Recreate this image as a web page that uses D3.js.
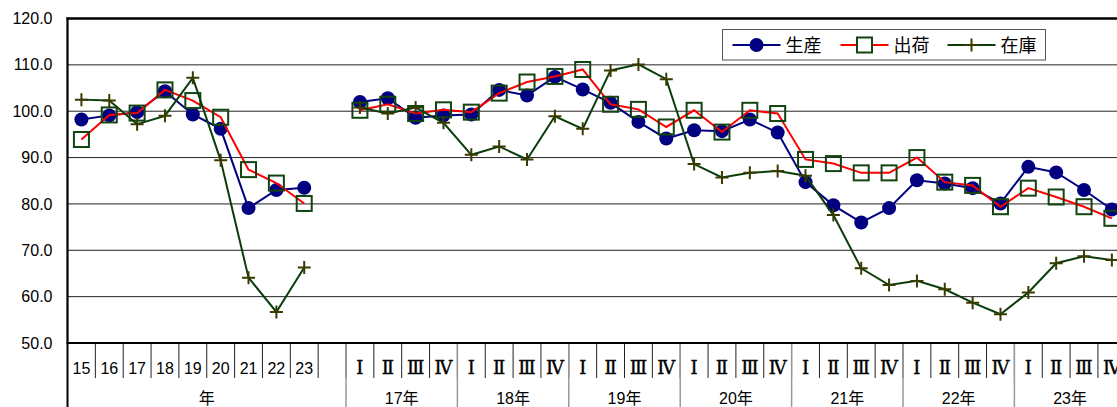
<!DOCTYPE html>
<html><head><meta charset="utf-8">
<script src="https://cdn.jsdelivr.net/npm/d3@7"></script>
<style>
body{margin:0;background:#fff;}
svg{display:block;}
text{font-family:"Liberation Sans","Noto Sans CJK JP",sans-serif;}
</style></head>
<body>
<svg id="c" width="1117" height="407"></svg>
<script>
// ---- data ----
const annualCats = ["15","16","17","18","19","20","21","22","23"];
const quarterCats = ["Ⅰ","Ⅱ","Ⅲ","Ⅳ"];
const quarterYears = ["17年","18年","19年","20年","21年","22年","23年"];
const annualGroup = "年";
const seriesNames = ["生産","出荷","在庫"];
const yTicks = [50,60,70,80,90,100,110,120];

const prodAnnual = [98.2,99.1,99.8,104.3,99.3,96.2,79.1,83.0,83.5];
const shipAnnual = [93.9,99.2,99.6,104.6,102.3,98.7,87.4,84.5,80.1];
const invAnnual  = [102.5,102.3,97.2,99.0,107.2,89.4,64.1,56.7,66.3];

const prodQ = [102.0,102.8,98.6,99.1, 99.3,104.6,103.4,107.4, 104.7,101.8,97.7,94.1, 95.9,95.7,98.2,95.4, 84.7,79.7,76.0,79.1, 85.1,84.4,83.4,80.1, 88.0,86.8,83.0,78.8];
const shipQ = [100.2,101.5,99.5,100.3, 99.8,103.9,106.3,107.5, 109.0,101.5,100.4,96.6, 100.2,95.5,100.2,99.5, 89.6,88.7,86.7,86.7, 90.0,84.7,84.0,79.4, 83.4,81.5,79.4,76.9];
const invQ  = [100.8,99.5,100.8,97.5, 90.6,92.4,89.6,98.9, 96.2,108.8,110.1,106.9, 88.6,85.7,86.7,87.1, 86.1,77.6,66.1,62.5, 63.4,61.6,58.7,56.2, 60.9,67.2,68.7,67.9];

// ---- layout ----
const svg = d3.select("#c");
const plotLeft = 67.5, plotTop = 18.5, plotBottom = 343, slotW = 27.85;
const nSlots = annualCats.length + 1 + quarterYears.length*quarterCats.length;
const slots = d3.range(nSlots);
const x = d3.scaleBand().domain(slots).range([plotLeft, plotLeft + nSlots*slotW]).padding(0);
const y = d3.scaleLinear().domain([50,120]).range([plotBottom, plotTop]);
const cx = i => x(i) + x.bandwidth()/2;
const W = 1117;

// grid lines
svg.append("g").selectAll("line").data(yTicks.filter(t => t>50 && t<120)).join("line")
  .attr("x1", plotLeft).attr("x2", W).attr("y1", d=>y(d)).attr("y2", d=>y(d))
  .attr("stroke","#222").attr("stroke-width",1);
// top border
svg.append("line").attr("x1", plotLeft-1).attr("x2", W).attr("y1", y(120)).attr("y2", y(120))
  .attr("stroke","#000").attr("stroke-width",2.7);

// y axis
const yAxis = d3.axisLeft(y).tickValues(yTicks).tickFormat(d3.format(".1f")).tickSize(0).tickPadding(15);
const ga = svg.append("g").attr("transform",`translate(${plotLeft},0)`).call(yAxis);
ga.select(".domain").remove();
ga.selectAll("text").attr("font-size",16).attr("fill","#000")
  .style("font-family","'Liberation Sans',Arial,sans-serif");

// category label structure
const catLabels = [];
annualCats.forEach((c,i)=>catLabels.push({i, t:c, serif:false}));
const qStart = annualCats.length + 1;
quarterYears.forEach((yr,k)=>quarterCats.forEach((q,j)=>catLabels.push({i:qStart + k*4 + j, t:q, serif:true})));

// short ticks between categories
svg.append("g").selectAll("line").data(d3.range(1, nSlots+1)).join("line")
  .attr("x1", d=>x(0)+d*slotW).attr("x2", d=>x(0)+d*slotW)
  .attr("y1", plotBottom).attr("y2", 378)
  .attr("stroke","#222").attr("stroke-width",1);
// group boundaries
const groupBounds = [0, qStart].concat(quarterYears.map((_,k)=>qStart + (k+1)*4));
svg.append("g").selectAll("line").data(groupBounds).join("line")
  .attr("x1", d=>x(0)+d*slotW).attr("x2", d=>x(0)+d*slotW)
  .attr("y1", plotBottom).attr("y2", 407)
  .attr("stroke", d=> d===0 ? "#000" : "#999").attr("stroke-width", d=> d===0 ? 2 : 1.5);

// bottom axis line
svg.append("line").attr("x1", plotLeft-1).attr("x2", W).attr("y1", plotBottom).attr("y2", plotBottom)
  .attr("stroke","#000").attr("stroke-width",2.2);
// left axis line
svg.append("line").attr("x1", plotLeft).attr("x2", plotLeft).attr("y1", plotTop-1).attr("y2", plotBottom)
  .attr("stroke","#000").attr("stroke-width",2.2);

svg.append("g").selectAll("text").data(catLabels).join("text")
  .attr("x", d=>cx(d.i)).attr("y", 374)
  .attr("text-anchor","middle").attr("font-size", d=>d.serif?18:16).attr("fill","#000")
  .attr("stroke", d=>d.serif?"#000":"none").attr("stroke-width", d=>d.serif?0.4:0)
  .style("font-family", d=> d.serif ? "'DejaVu Serif','Liberation Serif',serif" : "'Liberation Sans',Arial,sans-serif")
  .text(d=>d.t);

// group labels
const groups = [{a:0, b:qStart, t:annualGroup}].concat(quarterYears.map((yr,k)=>({a:qStart+k*4, b:qStart+(k+1)*4, t:yr})));
svg.append("g").selectAll("text").data(groups).join("text")
  .attr("x", d=>x(0)+(d.a+d.b)/2*slotW).attr("y", 404)
  .attr("text-anchor","middle").attr("font-size",16).attr("fill","#000")
  .text(d=>d.t);

// ---- series ----
function segs(annual, quarterly){
  return [annual.map((v,i)=>({i, v})), quarterly.map((v,j)=>({i:qStart+j, v}))];
}
const series = [
  {name:seriesNames[0], data:segs(prodAnnual, prodQ), color:"#000080", marker:"circle"},
  {name:seriesNames[1], data:segs(shipAnnual, shipQ), color:"#ff0000", marker:"square"},
  {name:seriesNames[2], data:segs(invAnnual, invQ), color:"#0a3d0a", marker:"plus"},
];
const line = d3.line().x(d=>cx(d.i)).y(d=>y(d.v));

function drawMarker(g, kind, px, py, fill){
  if(kind==="circle"){
    g.append("circle").attr("cx",px).attr("cy",py).attr("r",7).attr("fill","#000080");
  } else if(kind==="square"){
    g.append("rect").attr("x",px-7.5).attr("y",py-7.5).attr("width",15).attr("height",15)
      .attr("fill",fill||"none").attr("stroke","#114411").attr("stroke-width",2);
  } else {
    g.append("path").attr("d",`M${px-6.5},${py}H${px+6.5}M${px},${py-6.5}V${py+6.5}`)
      .attr("stroke","#3a3a00").attr("stroke-width",2).attr("fill","none");
  }
}

series.forEach(s=>{
  const g = svg.append("g");
  s.data.forEach(seg=>{
    g.append("path").datum(seg).attr("d", line).attr("fill","none")
      .attr("stroke", s.color).attr("stroke-width",2);
  });
  s.data.forEach(seg=>seg.forEach(d=>drawMarker(g, s.marker, cx(d.i), y(d.v))));
});

// ---- legend ----
const lg = svg.append("g");
lg.append("rect").attr("x",722.5).attr("y",29.5).attr("width",323).attr("height",30.5)
  .attr("fill","#fff").attr("stroke","#555").attr("stroke-width",1);
const legX = [732.5, 840.5, 947.5];
series.forEach((s,k)=>{
  const x0 = legX[k], ly = 45;
  lg.append("line").attr("x1",x0).attr("x2",x0+48).attr("y1",ly).attr("y2",ly)
    .attr("stroke",s.color).attr("stroke-width",2);
  drawMarker(lg, s.marker, x0+24, ly, "#fff");
  lg.append("text").attr("x",x0+53).attr("y",ly+6.5).attr("font-size",18).attr("fill","#000")
    .style("font-family","'Noto Sans CJK JP',sans-serif").text(s.name);
});
</script>
</body></html>
